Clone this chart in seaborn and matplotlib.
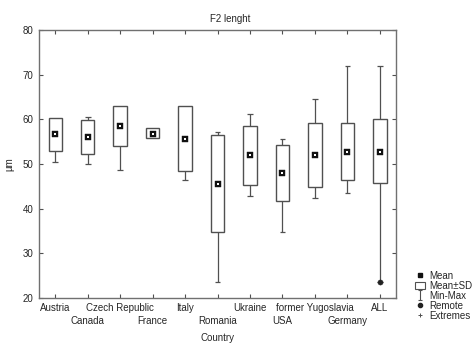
import matplotlib
matplotlib.use('Agg')
import matplotlib.pyplot as plt
from matplotlib.lines import Line2D
from matplotlib.patches import Rectangle
from matplotlib.path import Path
import pandas as pd
import seaborn as sns

countries = ['Austria', 'Canada', 'Czech Republic', 'France', 'Italy',
             'Romania', 'Ukraine', 'USA', 'former Yugoslavia', 'Germany',
             'ALL']
means = [56.6, 56.0, 58.4, 56.6, 55.5, 45.5, 52.0, 48.0, 52.0, 52.7, 52.7]
sd_low = [52.8, 52.2, 54.1, 55.7, 48.4, 34.8, 45.3, 41.6, 44.9, 46.5, 45.7]
sd_high = [60.2, 59.8, 63.0, 58.0, 62.9, 56.4, 58.4, 54.3, 59.1, 59.1, 60.0]
mins = [50.4, 49.9, 48.7, 55.7, 46.4, 23.5, 42.8, 34.7, 42.3, 43.6, 23.6]
maxs = [60.2, 60.5, 63.0, 58.0, 62.9, 57.1, 61.1, 55.5, 64.5, 72.0, 72.0]
remote_cat = ['ALL']
remote_val = [23.6]

df = pd.DataFrame({'Country': countries, 'mean': means, 'lo': sd_low,
                   'hi': sd_high, 'min': mins, 'max': maxs})

sns.set_style('ticks')
plt.rcParams['font.family'] = ['Liberation Sans', 'DejaVu Sans']
plt.rcParams['font.size'] = 7

edge = '#505050'
fig, ax = plt.subplots(figsize=(4.75, 3.44), dpi=100)
fig.subplots_adjust(left=0.082, right=0.834, top=0.913, bottom=0.134)

# whiskers below and above the SD box
ax.vlines(df['Country'], df['min'], df['lo'], color=edge, lw=0.9, zorder=1)
ax.vlines(df['Country'], df['hi'], df['max'], color=edge, lw=0.9, zorder=1)
ax.bar(df['Country'], df['hi'] - df['lo'], bottom=df['lo'], width=0.41,
       facecolor='white', edgecolor=edge, lw=1.0, zorder=2)
capmask = df['min'] < df['lo']
ax.hlines(df['min'][capmask], [i - 0.09 for i in df.index[capmask]],
          [i + 0.09 for i in df.index[capmask]], color=edge, lw=0.9)
capmask = df['max'] > df['hi']
ax.hlines(df['max'][capmask], [i - 0.09 for i in df.index[capmask]],
          [i + 0.09 for i in df.index[capmask]], color=edge, lw=0.9)

sns.scatterplot(data=df, x='Country', y='mean', marker='s', s=20,
                color='#111111', edgecolor='#111111', linewidth=0.3, ax=ax,
                zorder=4)
sns.scatterplot(data=df, x='Country', y='mean', marker='s', s=1.5,
                color='white', linewidth=0, ax=ax, zorder=5)
sns.scatterplot(x=remote_cat, y=remote_val, marker='o', s=14,
                color='#222222', edgecolor='#222222', ax=ax, zorder=5)

ax.set_ylim(20, 80)
ax.set_xlim(-0.5, len(countries) - 0.5)
ax.set_yticks([20, 30, 40, 50, 60, 70, 80])
ax.set_xticks(range(len(countries)))
ax.set_xticklabels(countries)
ax.tick_params(direction='in', length=3, width=0.8, color=edge,
               top=True, right=True, labelsize=7, pad=4)
ax.tick_params(axis='y', labelright=False)
# stagger every second label onto a second row
for i, tick in enumerate(ax.xaxis.get_major_ticks()):
    if i % 2 == 1:
        tick.set_pad(13)
for s in ax.spines.values():
    s.set_color('#707070')
    s.set_linewidth(1.0)
ax.set_xlabel('Country', fontsize=7, labelpad=5)
ax.set_ylabel('µm', fontsize=7, labelpad=6)
ax.set_title('F2 lenght', fontsize=7, pad=6, x=0.535)

ibeam = Path([(-0.5, -1), (0.5, -1), (0, -1), (0, 1), (-0.5, 1), (0.5, 1)],
             [Path.MOVETO, Path.LINETO, Path.MOVETO, Path.LINETO,
              Path.MOVETO, Path.LINETO])
handles = [
    Line2D([], [], marker='s', ls='', color='#111111', markersize=3.5),
    Rectangle((0, 0), 1, 1, facecolor='white', edgecolor=edge, lw=0.8),
    Line2D([], [], marker=ibeam, ls='', color=edge, markersize=7,
           markeredgewidth=0.8, fillstyle='none'),
    Line2D([], [], marker='o', ls='', color='#222222', markersize=3),
    Line2D([], [], marker='+', ls='', color=edge, markersize=3.5,
           markeredgewidth=0.7),
]
labels = ['Mean', 'Mean±SD', 'Min-Max', 'Remote', 'Extremes']
fig.legend(handles, labels, loc='lower left', bbox_to_anchor=(0.858, 0.045),
           frameon=False, fontsize=7, handlelength=1.0, handletextpad=0.4,
           labelspacing=0.0, borderpad=0.3, handleheight=0.8)

fig.savefig('out.png', dpi=100)
